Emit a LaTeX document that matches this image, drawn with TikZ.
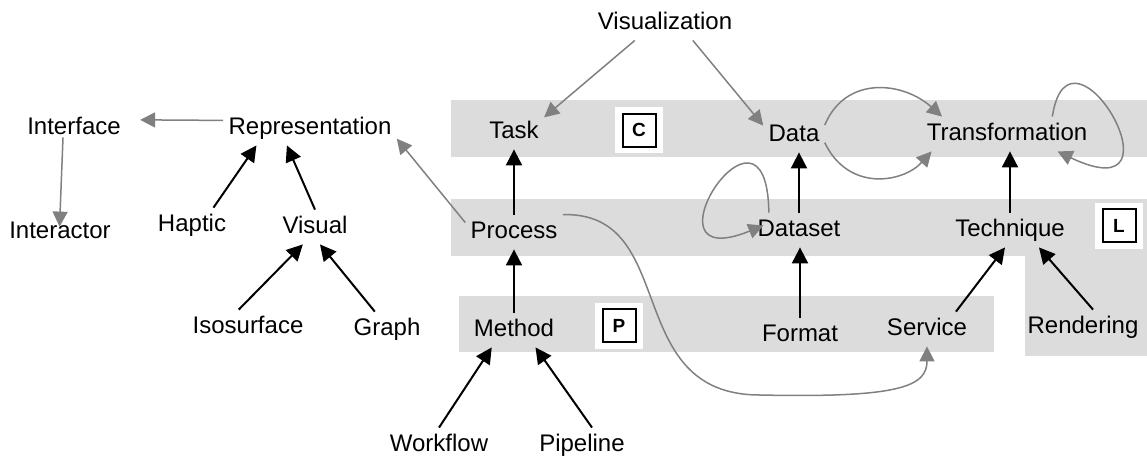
\documentclass[tikz,border=0pt]{standalone}
\usepackage{fontspec}
\setmainfont{Liberation Sans}
\usepackage{xcolor}
\usetikzlibrary{arrows.meta, positioning, calc}
\definecolor{bandgray}{RGB}{220, 220, 220}
\definecolor{linkgray}{RGB}{128, 128, 128}
\tikzstyle{term} = [rectangle, inner sep=2.5pt, text height=9pt, text depth=3pt, font=\fontsize{12}{14}\selectfont]
\tikzstyle{band} = [fill=bandgray]
\tikzstyle{tagpad} = [rectangle, fill=white, minimum width=24pt, minimum height=23pt, inner sep=0pt]
\tikzstyle{tagbox} = [rectangle, draw=black, line width=1pt, minimum size=16.5pt, inner sep=0pt, font=\bfseries\fontsize{9.5}{10}\selectfont]
\tikzstyle{link} = [line width=1pt, -{Triangle[length=8pt,width=8pt]}]
\tikzstyle{relation} = [draw=linkgray, line width=0.75pt, -{Triangle[length=7.5pt,width=7.5pt]}]

\begin{document}
\begin{tikzpicture}[x=0.5pt, y=-0.5pt]
      \useasboundingbox (0,0) rectangle (1147,457);
      \fill[band] (451,100) rectangle (1147,157);
      \fill[band] (451,199) rectangle (1147,256);
      \fill[band] (1025,256) rectangle (1147,356);
      \fill[band] (459,296) rectangle (994,352);

      \node[tagpad] (padC) at (639,130) {};
      \node[tagbox] (tagC) at (padC) {C};
      \node[tagpad] (padP) at (619,325.5) {};
      \node[tagbox] (tagP) at (padP) {P};
      \node[tagpad] (padL) at (1119,225.5) {};
      \node[tagbox] (tagL) at (padL) {L};

      \node[term] (interface) at (74,128) {Interface};
      \node[term] (repres) at (310,128) {Representation};
      \node[term] (interactor) at (60,232) {Interactor};
      \node[term] (haptic) at (192,225) {Haptic};
      \node[term] (visual) at (315,227) {Visual};
      \node[term] (isosurface) at (248,327) {Isosurface};
      \node[term] (graph) at (387,329) {Graph};
      \node[term] (visualization) at (665,23) {Visualization};
      \node[term] (task) at (514,132) {Task};
      \node[term] (data) at (794,135) {Data};
      \node[term] (transf) at (1007,134) {Transformation};
      \node[term] (process) at (514,232) {Process};
      \node[term] (dataset) at (799,230) {Dataset};
      \node[term] (technique) at (1010,230) {Technique};
      \node[term] (method) at (514,330) {Method};
      \node[term] (format) at (800,335) {Format};
      \node[term] (service) at (927,329) {Service};
      \node[term] (rendering) at (1083,327) {Rendering};
      \node[term] (workflow) at (439,445) {Workflow};
      \node[term] (pipeline) at (582,445) {Pipeline};
      \coordinate (dip) at (760,395);

      \draw[link] (haptic.39) -- (repres.198);
      \draw[link] (visual.north) -- (repres.217);
      \draw[link] (isosurface.118) -- (visual.235);
      \draw[link] (graph.125) -- (visual.286);
      \draw[link] (process) -- (task);
      \draw[link] (method) -- (process);
      \draw[link] (workflow.north) -- (method.218);
      \draw[link] (pipeline.60) -- (method.321);
      \draw[link] (dataset.north) -- (dataset.north |- data.south);
      \draw[link] (format.north) -- (format.north |- dataset.south);
      \draw[link] (technique.north) -- (technique.north |- transf.south);
      \draw[link] (service.31) -- (technique.254);
      \draw[link] (rendering.60) -- (technique.329);

      \draw[relation, shorten >=7pt] (repres.175) -- (interface.9);
      \draw[relation, shorten <=-4pt, shorten >=-6pt] (interface.237) -- (interactor.north);
      \draw[relation] (process.169) -- (repres.353);
      \draw[relation] (visualization.210) -- (task.26);
      \draw[relation] (visualization.-32) -- (data.163);
      \draw[relation] (data.18) .. controls +(21,-50) and +(-39,-35) .. (transf.165);
      \draw[relation] (data.-14) .. controls +(24,50) and +(-28,31) .. (transf.193);
      \draw[relation] (transf.21) .. controls +(17,-112) and +(134,64) .. (transf.-19);
      \draw[relation, shorten >=-6pt] (dataset.150) .. controls +(-2,-140) and +(-118,48) .. (dataset.west);
      \draw[relation] (process.north east) .. controls +(118,-3) and +(-140,0) .. (dip)
            .. controls +(140,3) and +(0,40) .. (service.south);
    \end{tikzpicture}
\end{document}
